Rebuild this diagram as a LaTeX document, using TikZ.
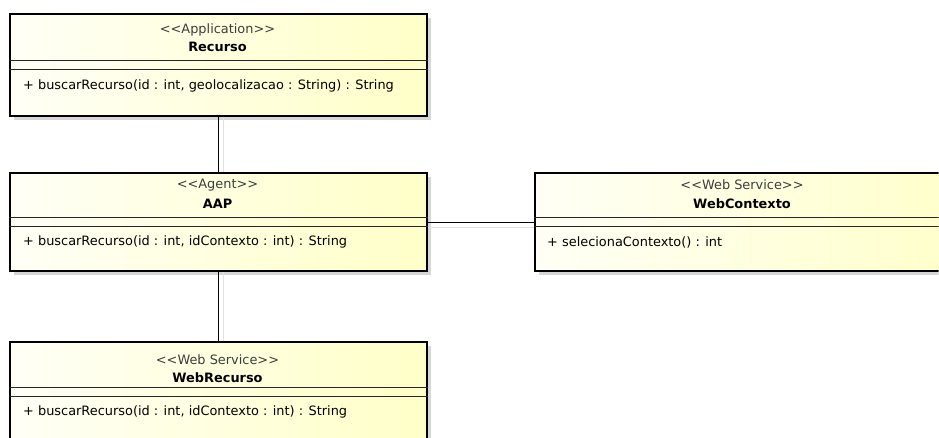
\documentclass[tikz,border=0pt]{standalone}
\usepackage{fontspec}
\setmainfont{DejaVu Sans}[Ligatures=TeXOff]
\usetikzlibrary{shadows}
\definecolor{boxleft}{RGB}{255,255,246}
\definecolor{boxright}{RGB}{255,255,200}
\definecolor{stereogray}{RGB}{60,60,60}
\tikzset{
  umlbox/.style={draw=black, line width=2pt, rectangle, anchor=north west,
    left color=boxleft, right color=boxright, inner sep=0pt,
    drop shadow={shadow xshift=4pt, shadow yshift=-4pt, fill=black!16, opacity=1}},
  sep/.style={draw=black!85, line width=0.9pt},
  stereo/.style={font=\fontsize{12.9}{14}\selectfont, text=stereogray, inner sep=0pt},
  cname/.style={font=\fontsize{12.9}{14}\selectfont\bfseries, inner sep=0pt},
  meth/.style={font=\fontsize{12.9}{14}\selectfont, anchor=west, inner sep=0pt},
  conn/.style={draw=black, line width=1pt},
  connshadow/.style={draw=black!12, line width=1pt}
}
\begin{document}
\begin{tikzpicture}[x=1pt,y=-1pt]
\useasboundingbox (0,0) rectangle (939,437);
\begin{scope}
\clip (-5,-5) rectangle (938.6,445);
% boxes
\node[umlbox, minimum width=417pt, minimum height=102pt] (rec) at (9,13) {};
\node[umlbox, minimum width=450pt, minimum height=98pt] (ctx) at (534,172) {};
\node[umlbox, minimum width=417pt, minimum height=98pt] (aap) at (9,172) {};
\node[umlbox, minimum width=417pt, minimum height=120pt] (wrec) at (9,341) {};
% connector shadows
\draw[connshadow] ([xshift=5pt]rec.south) -- ([xshift=5pt]aap.north);
\draw[connshadow] ([xshift=5pt]aap.south) -- ([xshift=5pt]wrec.north);
\draw[connshadow] ([yshift=-5pt]aap.east) -- ([yshift=-5pt]ctx.west);
% connectors
\draw[conn] (rec.south) -- (aap.north);
\draw[conn] (aap.south) -- (wrec.north);
\draw[conn] (aap.east) -- (ctx.west);
% separators
\draw[sep] (rec.west |- 0,60) -- (rec.east |- 0,60);
\draw[sep] (rec.west |- 0,69) -- (rec.east |- 0,69);
\draw[sep] (aap.west |- 0,217) -- (aap.east |- 0,217);
\draw[sep] (aap.west |- 0,226) -- (aap.east |- 0,226);
\draw[sep] (ctx.west |- 0,217) -- (ctx.east |- 0,217);
\draw[sep] (ctx.west |- 0,226) -- (ctx.east |- 0,226);
\draw[sep] (wrec.west |- 0,387) -- (wrec.east |- 0,387);
\draw[sep] (wrec.west |- 0,396) -- (wrec.east |- 0,396);
% texts
\node[stereo] (recS) at (217.5,30) {<<Application>>};
\node[cname] (recN) at (217.5,47) {Recurso};
\node[meth] (recM) at (23,86) {+ buscarRecurso(id : int, geolocalizacao : String) : String};
\node[stereo] (aapS) at (217.5,185) {<<Agent>>};
\node[cname] (aapN) at (217.5,204) {AAP};
\node[meth] (aapM) at (23,242) {+ buscarRecurso(id : int, idContexto : int) : String};
\node[stereo] (ctxS) at (742,185) {<<Web Service>>};
\node[cname] (ctxN) at (742,204) {WebContexto};
\node[meth] (ctxM) at (547,242) {+ selecionaContexto() : int};
\node[stereo] (wrecS) at (217.5,360) {<<Web Service>>};
\node[cname] (wrecN) at (217.5,378) {WebRecurso};
\node[meth] (wrecM) at (23,412) {+ buscarRecurso(id : int, idContexto : int) : String};
\end{scope}
\end{tikzpicture}
\end{document}
